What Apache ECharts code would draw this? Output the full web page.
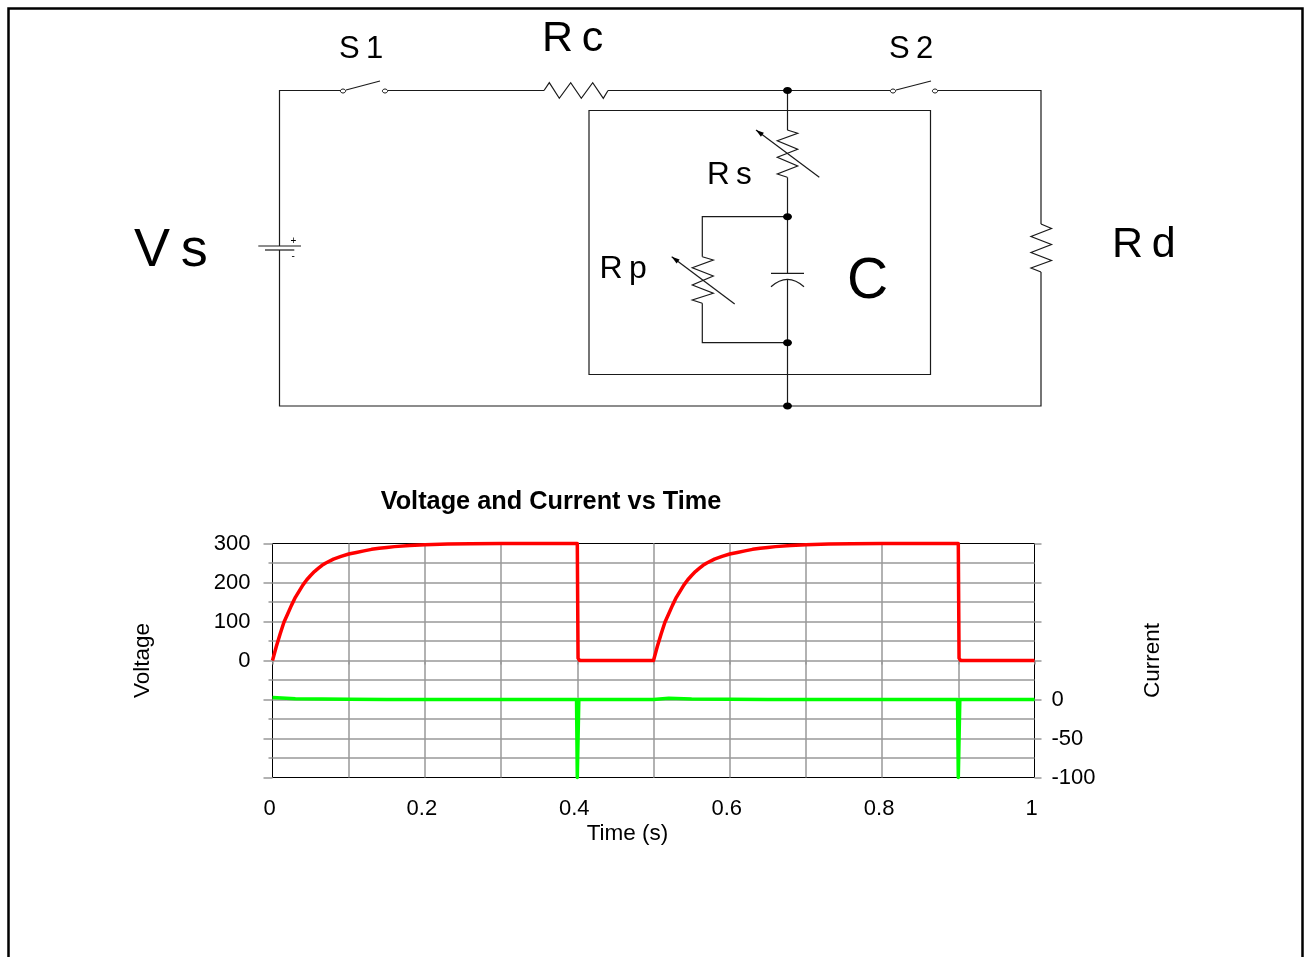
<!DOCTYPE html>
<html><head><meta charset="utf-8">
<style>html,body{margin:0;padding:0;background:#fff}#c{width:1305px;height:957px}</style>
<script src="https://cdn.jsdelivr.net/npm/echarts@6/dist/echarts.min.js"></script>
</head><body><div id="c"></div>
<script>
const chartTitle = 'Voltage and Current vs Time';
const xName = 'Time (s)', leftName = 'Voltage', rightName = 'Current';

const voltage = [[0,0],[0.005,36],[0.01,68],[0.015,98],[0.02,120],[0.025,142],[0.03,162],[0.035,178],[0.04,194],[0.045,207],[0.05,218],[0.055,228],[0.06,236],[0.065,244],[0.07,250],[0.08,260],[0.09,267],[0.1,273],[0.11,277],[0.12,281],[0.13,285],[0.14,288],[0.15,290],[0.16,292],[0.18,295],[0.2,297],[0.23,298.5],[0.26,299.5],[0.3,300],[0.4,300],[0.401,6],[0.403,0],
 [0.5,0],[0.505,36],[0.51,68],[0.515,98],[0.52,120],[0.525,142],[0.53,162],[0.535,178],[0.54,194],[0.545,207],[0.55,218],[0.555,228],[0.56,236],[0.565,244],[0.57,250],[0.58,260],[0.59,267],[0.6,273],[0.61,277],[0.62,281],[0.63,285],[0.64,288],[0.65,290],[0.66,292],[0.68,295],[0.7,297],[0.73,298.5],[0.76,299.5],[0.8,300],[0.9,300],[0.901,6],[0.903,0],[1,0]];
const current = [[0,2.5],[0.03,1],[0.1,0.4],[0.15,0],[0.3,0],[0.399,0],[0.4,-100],[0.401,-100],[0.402,0],[0.5,0],[0.501,2.5],[0.52,1.5],[0.55,0.5],[0.6,0.3],[0.65,0],[0.8,0],[0.899,0],[0.9,-100],[0.901,-100],[0.902,0],[1,0]];

// Circuit diagram drawing
const wires = [
 [[343,90.5],[279.5,90.5],[279.5,246]],
 [[279.5,250],[279.5,406],[1041,406],[1041,272]],
 [[1041,224],[1041,90.5],[938,90.5]],
 [[388,90.5],[544,90.5]],
 [[608,90.5],[890,90.5]],
 [[787.5,90.5],[787.5,130]],
 [[787.5,177.3],[787.5,273.3]],
 [[787.5,279.3],[787.5,406]],
 [[787.5,216.7],[702.3,216.7],[702.3,256.7]],
 [[702.3,303.3],[702.3,342.7],[787.5,342.7]]
];
const resistors = [
 [[544,90.5],[549.3,82.7],[559.3,98.3],[570.7,82.7],[581.3,98.3],[592.7,82.7],[603.3,98.3],[608,90.5]],
 [[787.3,130],[797.7,133.3],[777.3,140.7],[797.7,149.3],[777.3,157.3],[797.7,166],[777.3,174],[787.3,177.3]],
 [[702.3,256.7],[713.3,260],[692.3,267.7],[713.3,276],[692.3,285],[713.3,293.3],[692.3,300],[702.3,303.3]],
 [[1041,224],[1051.5,228.5],[1031,236.5],[1051.5,244.5],[1031,252.5],[1051.5,260.5],[1031,268],[1041,272]]
];
const strokes = [
 [[346,90],[380,81]],[[896,90],[931,81]],
 [[819.3,177.3],[756,130]],[[734.7,304],[671.7,256.7]],
 [[771,273.3],[804,273.3]],[[258.3,246],[301,246]],[[265,250],[294.3,250]]
];
const arrowHeads = [[[756,130],[763.9,132.8],[760.9,136.8]],[[671.7,256.7],[679.6,259.5],[676.6,263.5]]];
const nodes = [[787.5,90.5],[787.5,216.7],[787.5,342.7],[787.5,406]];
const switchContacts = [[343,91],[385,91],[893,91],[935,91]];
const labels = [
 ['S\u20091',339,49,31],['R\u2009c',542,39,43],['S\u20092',889,49,31],['V\u2009s',134,251,54],
 ['R\u2009s',707,175,31.5],['R\u2009p',599.5,269,32],['C',847,282.5,57],['R\u2009d',1112,245.5,43],
 ['+',290.5,241,10],['-',291.5,256,10]
];
const INK = '#1a1a1a';
const g = [];
g.push({type:'polyline',silent:true,shape:{points:[[8.5,962],[8.5,8.5],[1302.5,8.5],[1302.5,962]]},style:{stroke:'#000',lineWidth:2.5,fill:null}});
g.push({type:'rect',silent:true,shape:{x:589,y:110.5,width:341.5,height:264},style:{stroke:INK,lineWidth:1.2,fill:null}});
wires.concat(resistors,strokes).forEach(p=>g.push({type:'polyline',silent:true,shape:{points:p},style:{stroke:INK,lineWidth:1.2,fill:null}}));
g.push({type:'bezierCurve',silent:true,shape:{x1:771,y1:286.7,x2:804,y2:286.7,cpx1:787.5,cpy1:271.9},style:{stroke:INK,lineWidth:1.2,fill:null}});
arrowHeads.forEach(p=>g.push({type:'polygon',silent:true,shape:{points:p},style:{fill:'#000'}}));
nodes.forEach(n=>g.push({type:'ellipse',silent:true,shape:{cx:n[0],cy:n[1],rx:4.5,ry:3.5},style:{fill:'#000'}}));
switchContacts.forEach(n=>g.push({type:'ellipse',silent:true,shape:{cx:n[0],cy:n[1],rx:2.6,ry:2},style:{fill:'#fff',stroke:INK,lineWidth:1}}));
labels.forEach(l=>g.push({type:'text',silent:true,style:{text:l[0],x:l[1],y:l[2],fill:'#000',font:l[3]+'px "Liberation Sans"',textAlign:'left',textVerticalAlign:'middle'}}));

const GRID = '#999999';
const FONT = {fontFamily:'Liberation Sans',fontSize:22,color:'#000'};
const NAMEFONT = {fontFamily:'Liberation Sans',fontSize:22.5,color:'#000'};
const chart = echarts.init(document.getElementById('c'),null,{renderer:'canvas'});
chart.setOption({
 animation:false,
 backgroundColor:'#fff',
 title:{text:chartTitle,left:546,top:485,textAlign:'center',textStyle:{fontFamily:'Liberation Sans',fontWeight:'bold',fontSize:25.3,color:'#000'}},
 grid:{left:272.5,top:543.5,width:762,height:234,show:true,borderColor:'#000',borderWidth:1,backgroundColor:'transparent'},
 xAxis:{type:'value',min:0,max:1,interval:0.2,
  name:xName,nameLocation:'middle',nameGap:45,nameTextStyle:{...NAMEFONT,padding:[0,52,0,0]},
  axisLine:{show:false},
  axisTick:{show:true,length:4,lineStyle:{color:GRID,width:1.5}},
  minorTick:{show:true,splitNumber:2,length:4,lineStyle:{color:GRID,width:1.5}},
  splitLine:{show:true,showMinLine:false,showMaxLine:false,lineStyle:{color:GRID,width:1.5}},
  minorSplitLine:{show:true,lineStyle:{color:GRID,width:1.5}},
  axisLabel:{...FONT,margin:20,padding:[0,6,0,0],formatter:v=>String(+v.toFixed(1))}},
 yAxis:[
  {type:'value',min:-300,max:300,interval:100,position:'left',
   name:leftName,nameLocation:'middle',nameGap:118,nameRotate:90,nameTextStyle:NAMEFONT,
   axisLine:{show:false},
   axisTick:{show:true,length:9,lineStyle:{color:GRID,width:1.5}},
   minorTick:{show:true,splitNumber:2,length:4,lineStyle:{color:GRID,width:1.5}},
   splitLine:{show:true,showMinLine:false,showMaxLine:false,lineStyle:{color:GRID,width:1.5}},
   minorSplitLine:{show:true,lineStyle:{color:GRID,width:1.5}},
   axisLabel:{...FONT,margin:22,formatter:v=>v>=0?String(v):''}},
  {type:'value',min:-100,max:200,interval:50,position:'right',
   name:rightName,nameLocation:'middle',nameGap:107,nameRotate:90,nameTextStyle:NAMEFONT,
   axisLine:{show:false},
   axisTick:{show:true,length:7,lineStyle:{color:GRID,width:1.5}},
   minorTick:{show:false},
   splitLine:{show:false},
   axisLabel:{...FONT,margin:17,formatter:v=>v<=0?String(v):''}}
 ],
 series:[
  {type:'line',name:'Voltage',data:voltage,yAxisIndex:0,showSymbol:false,clip:false,smooth:false,lineStyle:{color:'#ff0000',width:3.5,join:'round'},z:5},
  {type:'line',name:'Current',data:current,yAxisIndex:1,showSymbol:false,clip:false,smooth:false,lineStyle:{color:'#00ff00',width:3.5,join:'round'},z:4}
 ],
 graphic:g
});
</script></body></html>
